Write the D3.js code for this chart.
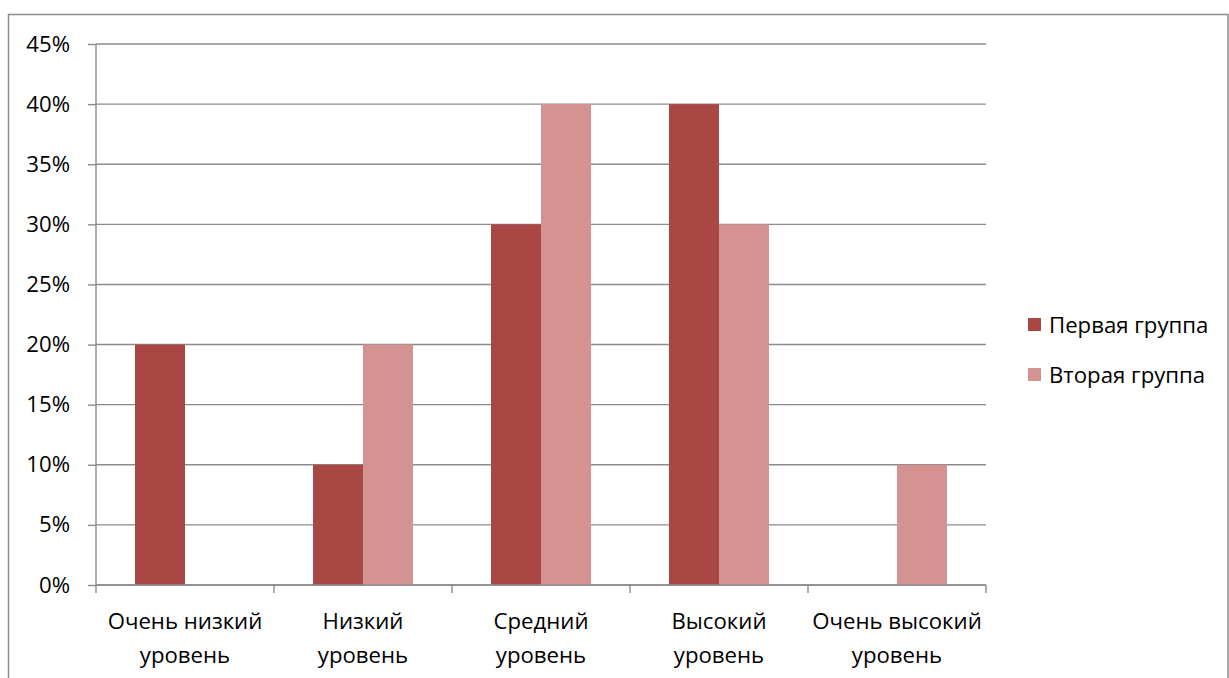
<!DOCTYPE html>
<html>
<head>
<meta charset="utf-8">
<script src="https://cdn.jsdelivr.net/npm/d3@7"></script>
<style>
  html, body { margin: 0; padding: 0; background: #fff; }
  svg { display: block; }
  text { font-family: "Open Sans", "Noto Sans", sans-serif; fill: #000; }
</style>
</head>
<body>
<svg id="chart" width="1229" height="678"></svg>
<script>
// Category labels (two lines each)
const categories = [
  ["Очень низкий", "уровень"],
  ["Низкий", "уровень"],
  ["Средний", "уровень"],
  ["Высокий", "уровень"],
  ["Очень высокий", "уровень"]
];
const seriesNames = ["Первая группа", "Вторая группа"];
const firstGroup = [0.20, 0.10, 0.30, 0.40, 0];
const secondGroup = [0, 0.20, 0.40, 0.30, 0.10];
const yTicks = [0, 0.05, 0.10, 0.15, 0.20, 0.25, 0.30, 0.35, 0.40, 0.45];
const colors = ["#A94744", "#D49391"];

const svg = d3.select("#chart");
const FS = 22.2;

// Outer frame
svg.append("rect")
  .attr("x", 8.5).attr("y", 14.5)
  .attr("width", 1219.5).attr("height", 700)
  .attr("fill", "none").attr("stroke", "#8c8c8c").attr("stroke-width", 1.5);

const plot = { left: 96, right: 986, top: 44, bottom: 585 };

const x0 = d3.scaleBand()
  .domain(d3.range(categories.length))
  .range([plot.left, plot.right])
  .paddingInner(0).paddingOuter(0);

const x1 = d3.scaleBand()
  .domain([0, 1])
  .range([0, x0.bandwidth()])
  .paddingOuter(0.78).paddingInner(0);

const y = d3.scaleLinear().domain([0, 0.45]).range([plot.bottom, plot.top]);

// Gridlines + y axis
const yAxis = d3.axisLeft(y)
  .tickValues(yTicks)
  .tickFormat(d3.format(".0%"))
  .tickSize(8)
  .tickPadding(18);

const gy = svg.append("g").attr("transform", `translate(${plot.left},0)`).call(yAxis);
gy.select(".domain").remove();
gy.selectAll(".tick line").attr("stroke", "#8c8c8c").attr("stroke-width", 1.4);
gy.selectAll(".tick text").attr("font-size", FS);

svg.append("g")
  .selectAll("line")
  .data(yTicks)
  .join("line")
  .attr("x1", plot.left).attr("x2", plot.right)
  .attr("y1", d => y(d)).attr("y2", d => y(d))
  .attr("stroke", "#8c8c8c").attr("stroke-width", 1.4);

// Bars
const series = [firstGroup, secondGroup];
series.forEach((vals, si) => {
  svg.append("g")
    .selectAll("rect")
    .data(vals)
    .join("rect")
    .attr("x", (d, i) => x0(i) + x1(si))
    .attr("y", d => y(d))
    .attr("width", x1.bandwidth())
    .attr("height", d => plot.bottom - y(d))
    .attr("fill", colors[si]);
});

// Y axis line
svg.append("line")
  .attr("x1", plot.left).attr("x2", plot.left)
  .attr("y1", plot.top).attr("y2", plot.bottom)
  .attr("stroke", "#8c8c8c").attr("stroke-width", 1.4);

// X axis line and boundary ticks
svg.append("line")
  .attr("x1", plot.left).attr("x2", plot.right)
  .attr("y1", plot.bottom).attr("y2", plot.bottom)
  .attr("stroke", "#8c8c8c").attr("stroke-width", 1.4);

const bounds = d3.range(categories.length + 1).map(i => plot.left + i * x0.step());
svg.append("g")
  .selectAll("line")
  .data(bounds)
  .join("line")
  .attr("x1", d => d).attr("x2", d => d)
  .attr("y1", plot.bottom).attr("y2", plot.bottom + 8)
  .attr("stroke", "#8c8c8c").attr("stroke-width", 1.4);

// Category labels
const lab = svg.append("g")
  .selectAll("text")
  .data(categories)
  .join("text")
  .attr("text-anchor", "middle")
  .attr("font-size", FS);
lab.each(function(d, i) {
  const t = d3.select(this);
  d.forEach((line, li) => {
    t.append("tspan")
      .attr("x", x0(i) + x0.bandwidth() / 2)
      .attr("y", 629 + li * 34)
      .text(line);
  });
});

// Legend
const legend = svg.append("g").attr("transform", "translate(1028,318)");
seriesNames.forEach((name, i) => {
  const g = legend.append("g").attr("transform", `translate(0,${i * 50})`);
  g.append("rect").attr("width", 13).attr("height", 13).attr("fill", colors[i]);
  g.append("text").attr("x", 21).attr("y", 14.5).attr("font-size", FS).text(name);
});
</script>
</body>
</html>
